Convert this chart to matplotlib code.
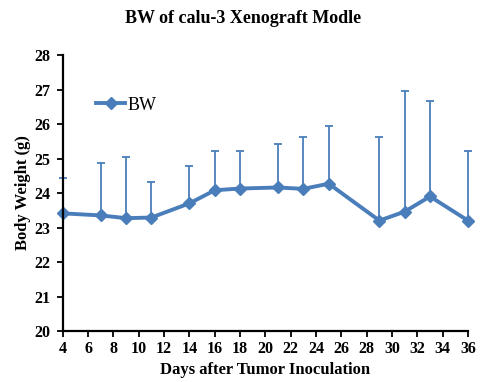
import matplotlib
matplotlib.use('Agg')
import matplotlib.pyplot as plt
from matplotlib.lines import Line2D

# Body weight data
days = [4, 7, 9, 11, 14, 16, 18, 21, 23, 25, 29, 31, 33, 36]
bw = [23.41, 23.35, 23.27, 23.29, 23.70, 24.08, 24.13, 24.16, 24.12, 24.27, 23.20, 23.46, 23.90, 23.20]
bw_top = [24.43, 24.87, 25.05, 24.31, 24.78, 25.21, 25.23, 25.43, 25.61, 25.93, 25.61, 26.97, 26.67, 25.23]
err_up = [t - v for t, v in zip(bw_top, bw)]
err_down = [0] * len(bw)

plt.rcParams['font.family'] = ['Liberation Serif', 'DejaVu Serif']
blue = '#4A7EBB'

fig = plt.figure(figsize=(4.87, 3.82), dpi=100)
ax = fig.add_axes([0.129, 0.1335, 0.832, 0.7225])

ax.errorbar(days, bw, yerr=[err_down, err_up], color=blue, ecolor=blue,
            elinewidth=1.3, capsize=3, capthick=1.3, linewidth=2.8,
            marker='D', markersize=6, clip_on=False)

ax.set_xlim(4, 36)
ax.set_ylim(20, 28)
ax.set_xticks(range(4, 37, 2))
ax.set_yticks(range(20, 29))
for s in ['top', 'right']:
    ax.spines[s].set_visible(False)
for s in ['left', 'bottom']:
    ax.spines[s].set_linewidth(1.6)
ax.tick_params(direction='out', length=4, width=1.3, labelsize=11.5)
ax.tick_params(axis='y', pad=5)
for lbl in ax.get_xticklabels() + ax.get_yticklabels():
    lbl.set_fontweight('bold')

ax.set_xlabel('Days after Tumor Inoculation', fontsize=12, fontweight='bold', labelpad=3)
ax.set_ylabel('Body Weight (g)', fontsize=12, fontweight='bold', labelpad=2)
fig.suptitle('BW of calu-3 Xenograft Modle', fontsize=13, fontweight='bold', y=0.975)

handle = Line2D([], [], color=blue, linewidth=2.8, marker='D', markersize=6)
ax.legend([handle], ['BW'], loc='upper left', bbox_to_anchor=(0.065, 0.875), frameon=False,
          fontsize=13, handlelength=1.6, handletextpad=0.1, borderaxespad=0)

fig.savefig('out.png', dpi=100)
